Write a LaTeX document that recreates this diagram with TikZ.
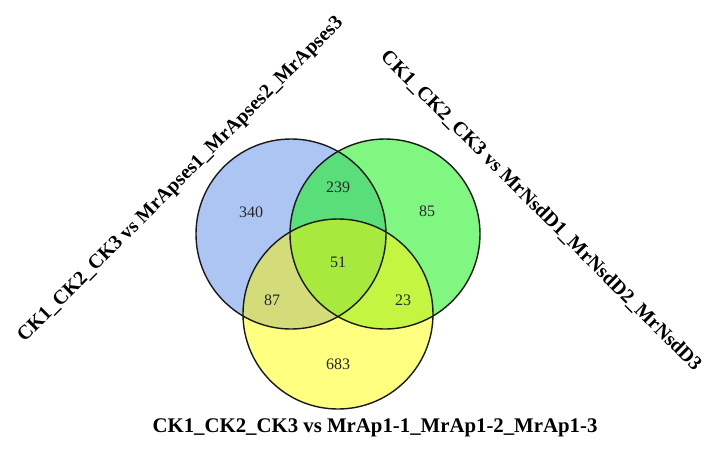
\documentclass[tikz,border=0pt]{standalone}
\usepackage{fontspec}
\setmainfont{Liberation Serif}
\definecolor{cA}{RGB}{173,197,242}
\definecolor{cB}{RGB}{128,247,128}
\definecolor{cC}{RGB}{255,255,128}
\definecolor{cAB}{RGB}{90,222,122}
\definecolor{cAC}{RGB}{212,220,122}
\definecolor{cBC}{RGB}{195,245,65}
\definecolor{cABC}{RGB}{167,233,60}
\tikzset{
  num/.style={font=\fontsize{16}{18}\selectfont, text=black!85},
  setlabel/.style={font=\bfseries\fontsize{20}{22}\selectfont, inner sep=0pt},
  ring/.style={draw=black!90, line width=1.4pt}
}
\begin{document}
\begin{tikzpicture}[x=1pt,y=-1pt]
\useasboundingbox (0,0) rectangle (707,448);
\coordinate (A) at (291,234);
\coordinate (B) at (385,234);
\coordinate (C) at (338,314);
\def\R{95}
% base fills
\fill[cA] (A) circle (\R);
\fill[cB] (B) circle (\R);
\fill[cC] (C) circle (\R);
% pairwise
\begin{scope}\clip (A) circle (\R); \fill[cAB] (B) circle (\R); \end{scope}
\begin{scope}\clip (A) circle (\R); \fill[cAC] (C) circle (\R); \end{scope}
\begin{scope}\clip (B) circle (\R); \fill[cBC] (C) circle (\R); \end{scope}
\begin{scope}\clip (A) circle (\R); \clip (B) circle (\R); \fill[cABC] (C) circle (\R); \end{scope}
% outlines
\draw[ring] (A) circle (\R);
\draw[ring] (B) circle (\R);
\draw[ring] (C) circle (\R);
% counts
\node[num] (n340) at (251,212) {340};
\node[num] (n239) at (338,187) {239};
\node[num] (n85)  at (427,211) {85};
\node[num] (n51)  at (338,262) {51};
\node[num] (n87)  at (272,300) {87};
\node[num] (n23)  at (403,300) {23};
\node[num] (n683) at (338,364) {683};
% set labels
\node[setlabel, rotate=45] (lA) at (181,180) {CK1\_CK2\_CK3 vs MrApses1\_MrApses2\_MrApses3};
\node[setlabel, rotate=-45] (lB) at (541,211) {CK1\_CK2\_CK3 vs MrNsdD1\_MrNsdD2\_MrNsdD3};
\node[setlabel, font=\bfseries\fontsize{20.8}{22}\selectfont] (lC) at (375,428) {CK1\_CK2\_CK3 vs MrAp1-1\_MrAp1-2\_MrAp1-3};
\end{tikzpicture}
\end{document}
